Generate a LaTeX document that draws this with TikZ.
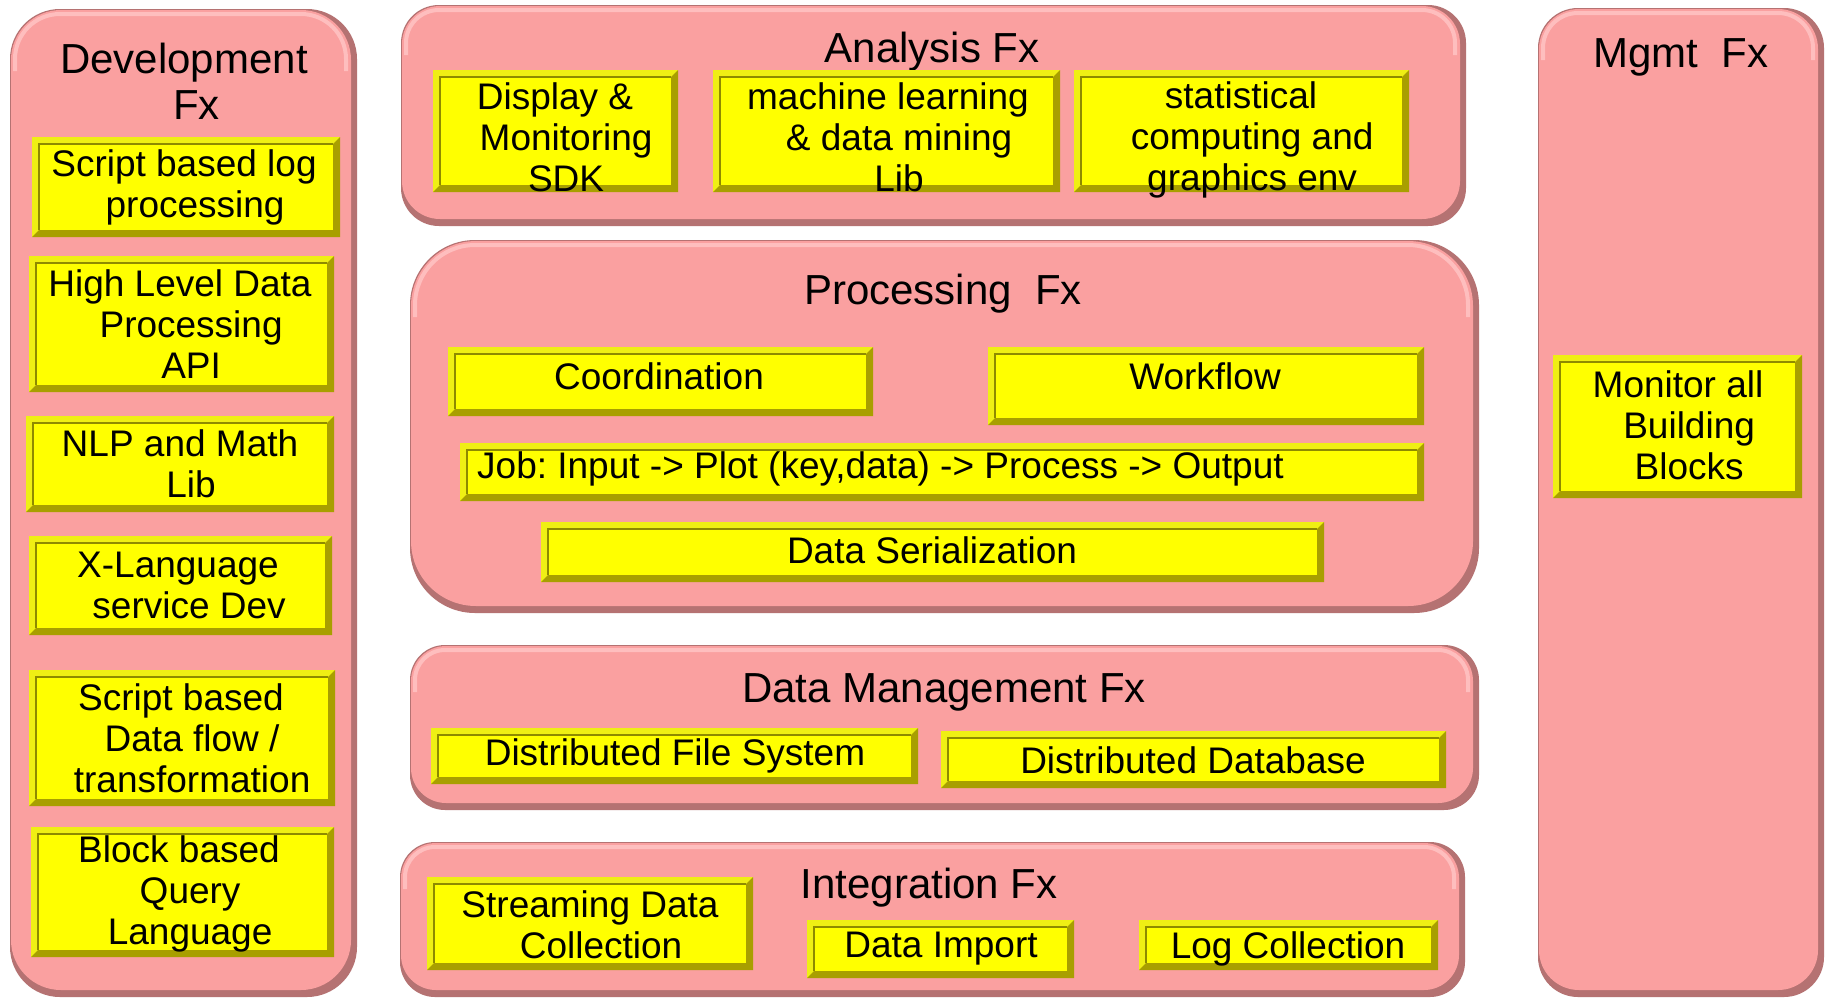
\documentclass[tikz,border=0pt]{standalone}
\usepackage{fontspec}
\setmainfont{Liberation Sans}
\frenchspacing

\definecolor{pinkfill}{HTML}{FAA0A0}
\definecolor{pinkedge}{HTML}{B57272}
\definecolor{pinklight}{HTML}{FFC6C6}
\definecolor{yface}{HTML}{FFFF00}
\definecolor{yrim}{HTML}{EFEF14}
\definecolor{yshade}{HTML}{A89F00}
\definecolor{yline}{HTML}{8E8A00}

% indent used for the continuation lines of the box labels
\newcommand{\ind}{\hspace*{.6em}}

% rounded pink panel: x1 y1 x2 y2 radius
\newcommand{\panel}[5]{%
  \pgfmathsetmacro{\rin}{#5-5}%
  \fill[pinkedge, rounded corners=#5] (#1,#2) rectangle (#3,#4);
  \fill[pinkfill, rounded corners=#5] ({#1+1},{#2+1}) rectangle ({#3-6},{#4-7});
  \draw[pinklight, line width=4, opacity=.8, rounded corners=\rin]
    ({#1+5},{#2+#5+12}) -- ({#1+5},{#2+5}) -- ({#3-11},{#2+5}) -- ({#3-11},{#2+#5+12});
}

% bevelled yellow frame: x1 y1 x2 y2
\newcommand{\yframe}[4]{%
  \fill[yrim] (#1,#2) rectangle (#3,#4);
  \fill[yshade] (#3,#4) -- (#1,#4) -- ({#1+7},{#4-7}) -- ({#3-7},{#4-7})
    -- ({#3-7},{#2+7}) -- (#3,#2) -- cycle;
  \fill[yface] ({#1+7},{#2+7}) rectangle ({#3-7},{#4-7});
  \draw[yline, line width=1.5] ({#1+7},{#4-7}) -- ({#1+7},{#2+7}) -- ({#3-7},{#2+7});
}

\begin{document}
\begin{tikzpicture}[x=1pt, y=-1pt,
  title/.style={align=center, inner sep=0pt, font=\fontsize{42}{46}\selectfont},
  boxtext/.style={align=center, inner sep=0pt, font=\fontsize{37}{41}\selectfont}]

\useasboundingbox (0,0) rectangle (1826,999);
\fill[white] (0,0) rectangle (1826,999);

% ---- panels ----
\panel{10}{9}{357}{997}{50}
\panel{401}{5}{1466}{226}{38}
\panel{410}{240}{1479}{613}{65}
\panel{410}{645}{1479}{810}{35}
\panel{400}{842}{1465}{997}{35}
\panel{1538}{8}{1824}{997}{40}

% ---- panel titles ----
\node[title] (devT) at (184,81) {Development\\\ind Fx};
\node[title, anchor=base] (anaT) at (932,62) {Analysis Fx};
\node[title, anchor=base] (procT) at (943,304) {Processing\ \ Fx};
\node[title, anchor=base] (dmT) at (944,702) {Data Management Fx};
\node[title, anchor=base] (intT) at (929,898) {Integration Fx};
\node[title, anchor=base] (mgmtT) at (1681,67) {Mgmt\ \ Fx};

% ---- development column ----
\yframe{32}{137}{340}{237}
\node[boxtext] (d1) at (184,187) {Script based log\\\ind processing};
\yframe{29}{256}{334}{392}
\node[boxtext] (d2) at (180,324) {High Level Data\\\ind Processing\\\ind API};
\yframe{26}{416}{334}{512}
\node[boxtext] (d3) at (180,464) {NLP and Math\\\ind Lib};
\yframe{29}{536}{332}{635}
\node[boxtext] (d4) at (178,585) {X-Language\\\ind service Dev};
\yframe{29}{670}{335}{806}
\node[boxtext] (d5) at (181,738) {Script based\\\ind Data flow /\\\ind transformation};
\yframe{31}{827}{334}{957}
\node[boxtext] (d6) at (179,894) {Block based\\\ind Query\\\ind Language};

% ---- analysis ----
\yframe{433}{70}{678}{192}
\node[boxtext] (a1) at (555,137) {Display \&\\\ind Monitoring\\\ind SDK};
\yframe{713}{70}{1060}{192}
\node[boxtext] (a2) at (888,137) {machine learning\\\ind \& data mining\\\ind Lib};
\yframe{1074}{70}{1409}{192}
\node[boxtext] (a3) at (1241,140) {statistical\\\ind computing and\\\ind graphics env};

% ---- processing ----
\yframe{448}{347}{873}{416}
\node[boxtext] (p1) at (659,376) {Coordination};
\yframe{988}{347}{1424}{425}
\node[boxtext] (p2) at (1205,376) {Workflow};
\yframe{460}{443}{1424}{501}
\node[boxtext, anchor=west] (p3) at (477,469) {Job: Input -> Plot (key,data) -> Process -> Output};
\yframe{541}{522}{1324}{582}
\node[boxtext] (p4) at (932,550) {Data Serialization};

% ---- data management ----
\yframe{431}{728}{918}{784}
\node[boxtext] (m1) at (675,756) {Distributed File System};
\yframe{941}{731}{1446}{788}
\node[boxtext] (m2) at (1193,760) {Distributed Database};

% ---- integration ----
\yframe{427}{877}{753}{970}
\node[boxtext] (i1) at (590,925) {Streaming Data\\\ind Collection};
\yframe{807}{920}{1074}{978}
\node[boxtext] (i2) at (941,949) {Data Import};
\yframe{1139}{920}{1438}{970}
\node[boxtext] (i3) at (1288,949) {Log Collection};

% ---- management ----
\yframe{1553}{355}{1802}{498}
\node[boxtext] (g1) at (1678,425) {Monitor all\\\ind Building\\\ind Blocks};

\end{tikzpicture}
\end{document}
